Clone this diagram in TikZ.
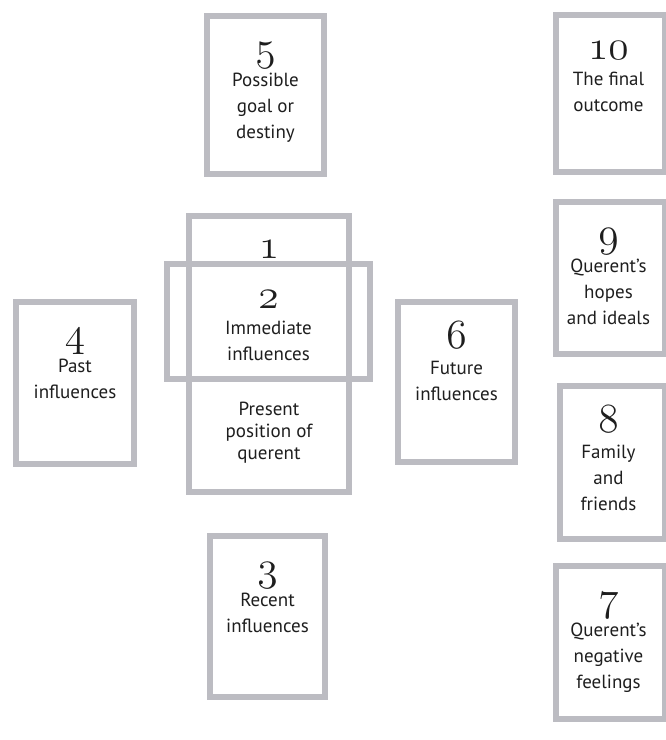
\documentclass[tikz,border=0pt]{standalone}
\usepackage{fontspec}
\setmainfont{PT Sans}
\usetikzlibrary{positioning}
\definecolor{cardborder}{RGB}{188,188,194}
\definecolor{cardink}{RGB}{30,30,30}
\tikzset{
  card/.style={rectangle, draw=cardborder, line width=3pt, inner sep=0pt, outer sep=0pt},
  cardsize/.style 2 args={minimum width=#1, minimum height=#2},
  cardtxt/.style={align=center, inner sep=0pt, text=cardink, font=\fontsize{9.5}{13}\selectfont},
  cardtxtsm/.style={cardtxt, font=\fontsize{9.5}{11}\selectfont}
}
\newcommand{\cardnum}[1]{\rule{0pt}{12.5pt}{\fontsize{21}{21}\usefont{OML}{cmm}{m}{it}#1}}

\begin{document}
\begin{tikzpicture}[x=0.5pt, y=-0.5pt]
\useasboundingbox (0,0) rectangle (665,740);
% cards of the spread
\node[card, cardsize={58.5pt}{79pt}] (c5) at (265.5,95) {};
\node[card, cardsize={54.5pt}{78.5pt}] (c10) at (610.5,93.5) {};
\node[card, cardsize={80pt}{138pt}] (c1) at (269,354) {};
\node[card, cardsize={101.5pt}{57.5pt}] (c2) at (268.5,321.5) {};
\node[card, cardsize={59pt}{81pt}] (c4) at (75,383) {};
\node[card, cardsize={58.5pt}{80pt}] (c6) at (456.5,382) {};
\node[card, cardsize={57.5pt}{80.5pt}] (c3) at (267.5,616.5) {};
\node[card, cardsize={54.5pt}{76pt}] (c9) at (610.5,278) {};
\node[card, cardsize={52.5pt}{76.5pt}] (c8) at (612.5,462.5) {};
\node[card, cardsize={54.5pt}{76.5pt}] (c7) at (610.5,642.5) {};
% texts
\node[cardtxt, below=9.5pt of c5.north] (t5) {\cardnum{5}\\Possible\\goal or\\destiny};
\node[cardtxt, below=9.5pt of c10.north, xshift=-1pt] (t10) {\cardnum{10}\\The final\\outcome};
\node[cardtxt, below=8.5pt of c1.north] (t1) {\cardnum{1}};
\node[cardtxtsm, below=93pt of c1.north] (t1b) {Present\\position of\\querent};
\node[cardtxt, below=9.5pt of c2.north] (t2) {\cardnum{2}\\Immediate\\influences};
\node[cardtxt, below=9.5pt of c4.north] (t4) {\cardnum{4}\\Past\\influences};
\node[cardtxt, below=9.5pt of c6.north] (t6) {\cardnum{6}\\Future\\influences};
\node[cardtxt, below=9.5pt of c3.north] (t3) {\cardnum{3}\\Recent\\influences};
\node[cardtxt, below=9.5pt of c9.north, xshift=-1pt] (t9) {\cardnum{9}\\Querent's\\hopes\\and ideals};
\node[cardtxt, below=9.5pt of c8.north, xshift=-2pt] (t8) {\cardnum{8}\\Family\\and\\friends};
\node[cardtxt, below=9.5pt of c7.north, xshift=-1pt] (t7) {\cardnum{7}\\Querent's\\negative\\feelings};
\end{tikzpicture}
\end{document}
